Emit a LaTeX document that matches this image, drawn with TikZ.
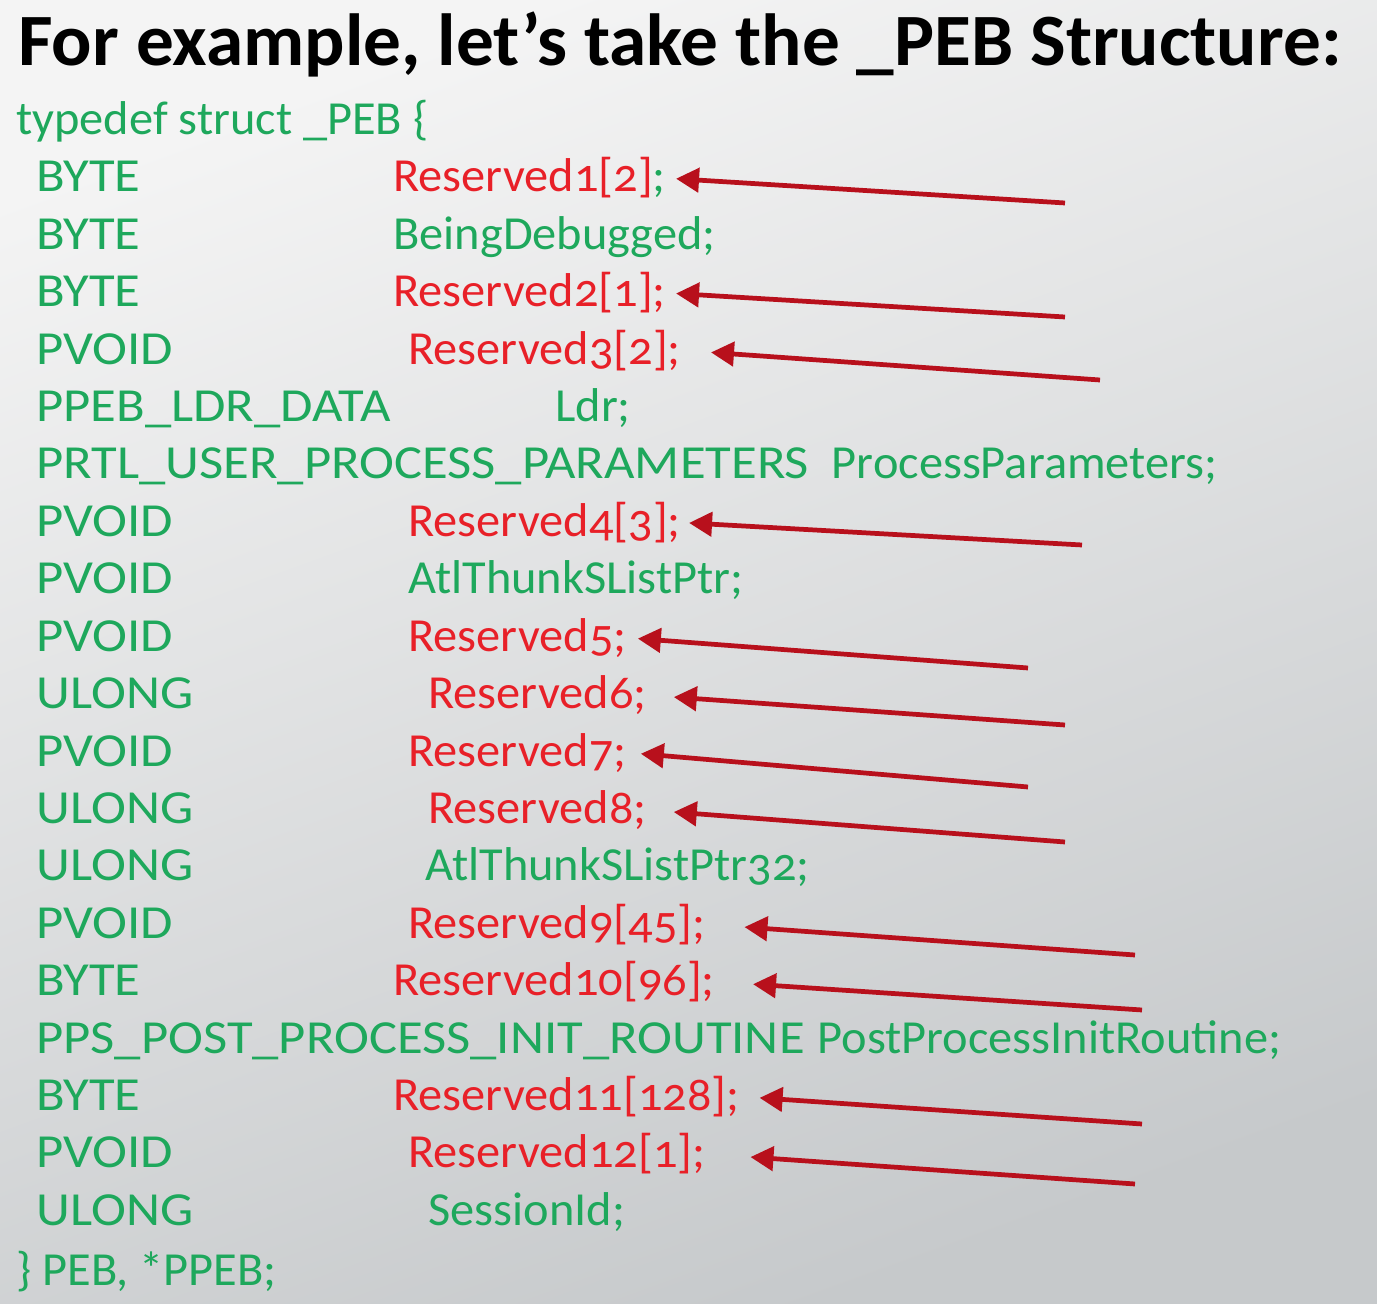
\documentclass[tikz,border=0pt]{standalone}
\usepackage{fontspec}
\setmainfont{Carlito}[Numbers=OldStyle,FakeStretch=1.02]
\newfontfamily\genreFont{Carlito}[FakeStretch=1.11]
\usetikzlibrary{calc,arrows.meta}
\definecolor{vertCode}{RGB}{30,168,92}
\definecolor{rougeCode}{RGB}{232,32,40}
\definecolor{rougeFleche}{RGB}{184,16,28}
\definecolor{fondHaut}{RGB}{244,244,244}
\definecolor{fondBas}{RGB}{198,201,203}

\begin{document}
\begin{tikzpicture} [x=0.02cm,y=-0.02cm,
  titre/.style=
  {anchor=base west,inner sep=0,text=black,
    font=\fontsize{42}{50}\selectfont\bfseries},
  champ/.style=
  {anchor=base west,inner sep=0,text=vertCode,
    font=\fontsize{27}{32}\selectfont},
  genre/.style={champ,font=\fontsize{27}{32}\genreFont},
  reserve/.style={champ,text=rougeCode},
  fleche/.style=
  {-{Triangle[length=0.46cm,width=0.48cm]},line width=2.7pt,
    draw=rougeFleche}]
\shade [top color=fondHaut, bottom color=fondBas, shading angle=20] (0,0) rectangle (1377,1304);
\useasboundingbox (0,0) rectangle (1377,1304);
\node [titre] (title) at (18,66) {For example, let’s take the \_PEB Structure:};
\node [champ] (head) at (16,134.6) {typedef struct \_PEB \{};
\node [genre] (type1) at (36,192) {BYTE};
\node [reserve] (res1) at (393,192) {Reserved1[2]\textcolor{vertCode}{;}};
\node [genre] (type2) at (36,249.4) {BYTE};
\node [champ] (debugged) at (393,249.4) {BeingDebugged;};
\node [genre] (type3) at (36,306.8) {BYTE};
\node [reserve] (res2) at (393,306.8) {Reserved2[1];};
\node [genre] (type4) at (36,364.2) {PVOID};
\node [reserve] (res3) at (408,364.2) {Reserved3[2];};
\node [genre] (type5) at (36,421.6) {PPEB\_LDR\_DATA};
\node [champ] (ldr) at (555,421.6) {Ldr;};
\node [genre] (type6) at (36,479) {PRTL\_USER\_PROCESS\_PARAMETERS};
\node [champ] (params) at ($(type6.base east)+(22,0)$) {ProcessParameters;};
\node [genre] (type7) at (36,536.4) {PVOID};
\node [reserve] (res4) at (408,536.4) {Reserved4[3];};
\node [genre] (type8) at (36,593.8) {PVOID};
\node [champ] (thunk) at (408,593.8) {AtlThunkSListPtr;};
\node [genre] (type9) at (36,651.2) {PVOID};
\node [reserve] (res5) at (408,651.2) {Reserved5;};
\node [genre] (type10) at (36,708.6) {ULONG};
\node [reserve] (res6) at (428,708.6) {Reserved6;};
\node [genre] (type11) at (36,766) {PVOID};
\node [reserve] (res7) at (408,766) {Reserved7;};
\node [genre] (type12) at (36,823.4) {ULONG};
\node [reserve] (res8) at (428,823.4) {Reserved8;};
\node [genre] (type13) at (36,880.8) {ULONG};
\node [champ] (thunk32) at (425,880.8) {AtlThunkSListPtr32;};
\node [genre] (type14) at (36,938.2) {PVOID};
\node [reserve] (res9) at (408,938.2) {Reserved9[45];};
\node [genre] (type15) at (36,995.6) {BYTE};
\node [reserve] (res10) at (393,995.6) {Reserved10[96];};
\node [genre] (type16) at (36,1053) {PPS\_POST\_PROCESS\_INIT\_ROUTINE};
\node [champ] (initRoutine) at ($(type16.base east)+(12,0)$) {PostProcessInitRoutine;};
\node [genre] (type17) at (36,1110.4) {BYTE};
\node [reserve] (res11) at (393,1110.4) {Reserved11[128];};
\node [genre] (type18) at (36,1167.8) {PVOID};
\node [reserve] (res12) at (408,1167.8) {Reserved12[1];};
\node [genre] (type19) at (36,1225.2) {ULONG};
\node [champ] (session) at (428,1225.2) {SessionId;};
\node [champ] (tail) at (16,1285) {\} PEB, *PPEB;};
% arrows pointing at the reserved fields
\coordinate (pseudoRes1) at (1065,203);
\coordinate (pseudoRes2) at (1065,317);
\coordinate (pseudoRes3) at (1100,380);
\coordinate (pseudoRes4) at (1082,545);
\coordinate (pseudoRes5) at (1028,668);
\coordinate (pseudoRes6) at (1065,725);
\coordinate (pseudoRes7) at (1028,787);
\coordinate (pseudoRes8) at (1065,842);
\coordinate (pseudoRes9) at (1135,955);
\coordinate (pseudoRes10) at (1142,1010);
\coordinate (pseudoRes11) at (1142,1124);
\coordinate (pseudoRes12) at (1135,1184);
\draw [fleche,shorten >=0.2cm] (pseudoRes1) -- (res1.east);
\draw [fleche,shorten >=0.2cm] (pseudoRes2) -- (res2.east);
\draw [fleche,shorten >=0.6cm] (pseudoRes3) -- (res3.east);
\draw [fleche,shorten >=0.16cm] (pseudoRes4) -- (res4.east);
\draw [fleche,shorten >=0.22cm] (pseudoRes5) -- (res5.east);
\draw [fleche,shorten >=0.54cm] (pseudoRes6) -- (res6.east);
\draw [fleche,shorten >=0.28cm] (pseudoRes7) -- (res7.east);
\draw [fleche,shorten >=0.54cm] (pseudoRes8) -- (res8.east);
\draw [fleche,shorten >=0.78cm] (pseudoRes9) -- (res9.east);
\draw [fleche,shorten >=0.76cm] (pseudoRes10) -- (res10.east);
\draw [fleche,shorten >=0.4cm] (pseudoRes11) -- (res11.east);
\draw [fleche,shorten >=0.9cm] (pseudoRes12) -- (res12.east);

\end{tikzpicture}
\end{document}
